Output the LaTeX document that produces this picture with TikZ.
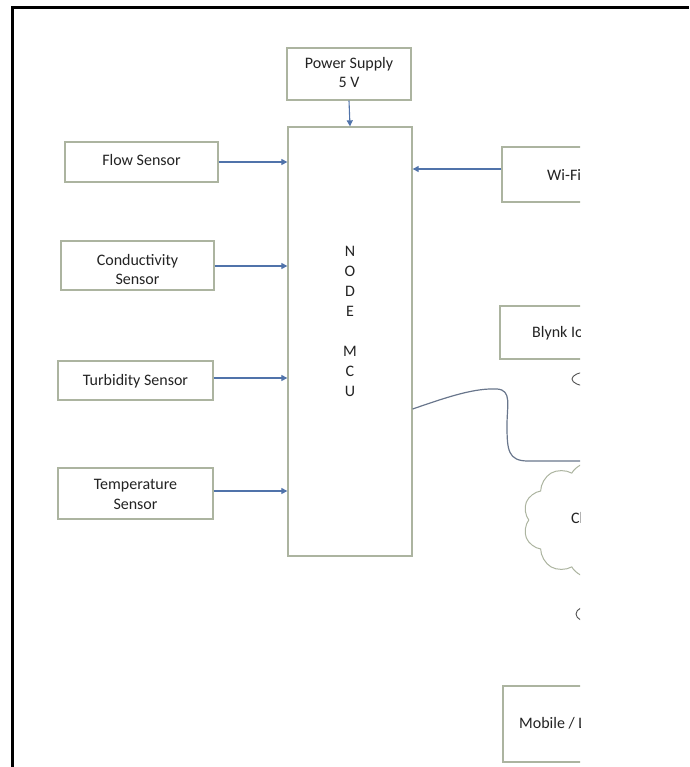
\documentclass[tikz,border=0pt]{standalone}
\usepackage{fontspec}
\setmainfont{Carlito}
\usetikzlibrary{shapes.symbols,shapes.geometric,arrows.meta}
\definecolor{boxc}{RGB}{172,180,160}
\definecolor{arrc}{RGB}{80,115,170}
\definecolor{curc}{RGB}{105,118,140}
\definecolor{txt}{RGB}{35,35,35}
\begin{document}
\begin{tikzpicture}[x=1pt,y=-1pt,
  blk/.style={draw=boxc,line width=1.3pt,fill=white,inner sep=0pt},
  lbl/.style={text=txt,font=\fontsize{16}{19.5}\selectfont,align=center,inner sep=0pt},
  conn/.style={draw=arrc,line width=1.1pt,-{Triangle[length=6pt,width=6pt]}},
  wire/.style={draw=curc,line width=1.2pt},
  puff/.style={draw=boxc,line width=1pt,cloud,cloud puffs=10,cloud puff arc=120,aspect=1.2,inner sep=0pt},
  oval/.style={draw=txt!80,line width=0.9pt,ellipse,inner sep=0pt},
]
\useasboundingbox (0,0) rectangle (689,767);
\begin{scope}
\clip (0,0) rectangle (580,767);
% boxes
\node[blk,minimum width=124pt,minimum height=52pt] (ps) at (349,74) {};
\node[blk,minimum width=124pt,minimum height=429pt] (mcu) at (350,341.5) {};
\node[blk,minimum width=153pt,minimum height=40pt] (flow) at (141.5,162) {};
\node[blk,minimum width=153pt,minimum height=49pt] (cond) at (137.5,265.5) {};
\node[blk,minimum width=155pt,minimum height=39pt] (turb) at (135.5,380.5) {};
\node[blk,minimum width=155pt,minimum height=51pt] (temp) at (135.5,493.5) {};
\node[blk,minimum width=124pt,minimum height=55pt] (wifi) at (564,174.5) {};
\node[blk,minimum width=124pt,minimum height=53pt] (blynk) at (562,332.5) {};
\node[blk,minimum width=124pt,minimum height=76pt] (mob) at (565,724) {};
\node[puff,minimum width=136pt,minimum height=116pt] (cloud) at (591,520) {};
\node[oval,minimum width=32pt,minimum height=14pt] (ov1) at (588,379) {};
\node[oval,minimum width=32pt,minimum height=17pt] (ov2) at (592,614) {};
% labels
\node[lbl] (pst) at (349,72.5) {Power Supply\\5 V};
\node[lbl] (flowt) at (141.5,160) {Flow Sensor};
\node[lbl] (condt) at (137.5,269.5) {Conductivity\\Sensor};
\node[lbl] (turbt) at (135.5,381.5) {Turbidity Sensor};
\node[lbl] (tempt) at (135.5,494.5) {Temperature\\Sensor};
\node[lbl,font=\fontsize{16}{20}\selectfont] (mcut) at (350,321.5) {N\\O\\D\\E\\\mbox{}\\M\\C\\U};
\node[lbl,anchor=west] (wifit) at (547,175) {Wi-Fi};
\node[lbl,anchor=west] (blynkt) at (532,333) {Blynk IoT};
\node[lbl,anchor=west] (cloudt) at (571,518) {Cloud};
\node[lbl,anchor=west] (mobt) at (519,724) {Mobile / Laptop};
% connectors
\draw[conn] (ps.south) -- (mcu.north);
\draw[conn] (flow.east) -- (flow.east -| mcu.west);
\draw[conn] (cond.east |- 0,266) -- (mcu.west |- 0,266);
\draw[conn] (turb.east |- 0,378) -- (mcu.west |- 0,378);
\draw[conn] (temp.east |- 0,491) -- (mcu.west |- 0,491);
\draw[conn] (wifi.west |- 0,169) -- (mcu.east |- 0,169);
\coordinate (cend) at (600,461);
\draw[wire] (mcu.east |- 0,409) .. controls (450,396) and (475,388) .. (497,389)
  .. controls (512,390) and (507,405) .. (507,425)
  .. controls (507,450) and (508,461) .. (528,461) -- (cend);
\end{scope}
% frame
\draw[line width=3pt] (12,767) -- (12,8) -- (689,8);
\end{tikzpicture}
\end{document}
